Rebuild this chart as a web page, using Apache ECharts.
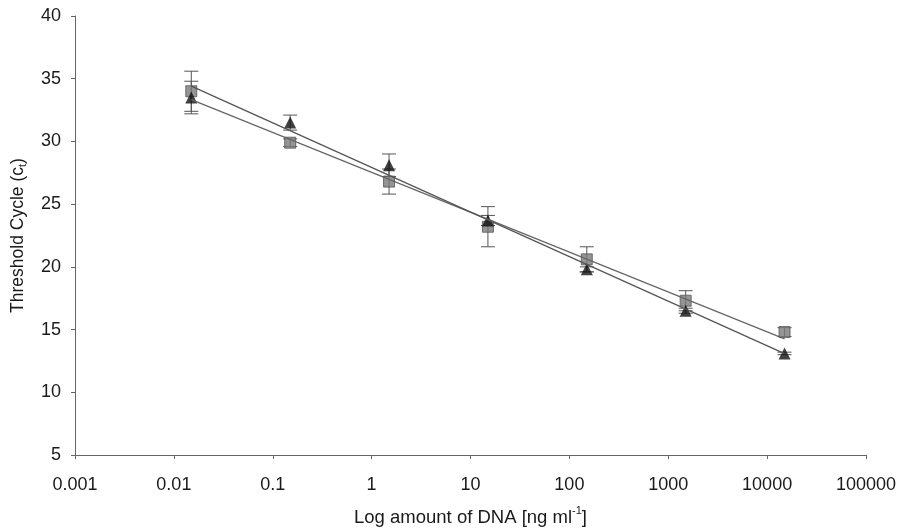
<!DOCTYPE html>
<html>
<head>
<meta charset="utf-8">
<script src="https://cdn.jsdelivr.net/npm/echarts@6/dist/echarts.min.js"></script>
<style>
html,body{margin:0;padding:0;background:#fff;}
#chart{width:901px;height:532px;}
</style>
</head>
<body>
<div id="chart"></div>
<script>
// ---- data ----
const xValues = [0.015, 0.15, 1.5, 15, 150, 1500, 15000];
const squareCt = [34.0, 29.9, 26.8, 23.2, 20.6, 17.3, 14.8];
const squareErr = [1.6, 0.3, 1.0, 1.6, 1.0, 0.8, 0.35];
const triangleCt = [33.5, 31.5, 28.1, 23.7, 19.8, 16.5, 13.1];
const triangleErr = [1.3, 0.6, 0.9, 0.4, 0.2, 0.2, 0.1];
const xTickLabels = ['0.001', '0.01', '0.1', '1', '10', '100', '1000', '10000', '100000'];
const yTicks = [5, 10, 15, 20, 25, 30, 35, 40];

function regression(xs, ys) {
  const lx = xs.map(v => Math.log10(v));
  const n = lx.length;
  const mx = lx.reduce((a, b) => a + b, 0) / n;
  const my = ys.reduce((a, b) => a + b, 0) / n;
  let sxy = 0, sxx = 0;
  for (let i = 0; i < n; i++) { sxy += (lx[i] - mx) * (ys[i] - my); sxx += (lx[i] - mx) ** 2; }
  const b = sxy / sxx, a = my - b * mx;
  return [xs[0], xs[n - 1]].map(x => [x, a + b * Math.log10(x)]);
}

function errData(xs, ys, es) {
  return xs.map((x, i) => [x, ys[i] - es[i], ys[i] + es[i]]);
}

function errRender(params, api) {
  const x = api.value(0);
  const lo = api.coord([x, api.value(1)]);
  const hi = api.coord([x, api.value(2)]);
  const hw = 7;
  const st = { stroke: '#555', lineWidth: 1 };
  return {
    type: 'group',
    children: [
      { type: 'line', shape: { x1: lo[0], y1: lo[1], x2: hi[0], y2: hi[1] }, style: st },
      { type: 'line', shape: { x1: lo[0] - hw, y1: lo[1], x2: lo[0] + hw, y2: lo[1] }, style: st },
      { type: 'line', shape: { x1: hi[0] - hw, y1: hi[1], x2: hi[0] + hw, y2: hi[1] }, style: st }
    ]
  };
}

const font = '"Liberation Sans", Arial, sans-serif';
const chart = echarts.init(document.getElementById('chart'), null, { renderer: 'canvas' });
chart.setOption({
  backgroundColor: '#fff',
  animation: false,
  grid: { left: 75, right: 35, top: 16, bottom: 77, containLabel: false, outerBoundsMode: 'none' },
  xAxis: {
    type: 'log', logBase: 10, min: 0.001, max: 100000,
    splitLine: { show: false },
    axisLine: { lineStyle: { color: '#666', width: 1 } },
    axisTick: { show: true, length: 4, lineStyle: { color: '#666' } },
    minorTick: { show: false },
    axisLabel: {
      color: '#1a1a1a', fontSize: 18, fontFamily: font, margin: 21,
      formatter: function (v) {
        const k = Math.round(Math.log10(v)) + 3;
        return xTickLabels[k] !== undefined ? xTickLabels[k] : '';
      }
    },
    name: '{a|Log amount of DNA [ng ml}{s|-1}{a|]}',
    nameLocation: 'middle', nameGap: 50,
    nameTextStyle: {
      rich: {
        a: { fontSize: 18.5, fontFamily: font, color: '#1a1a1a', lineHeight: 22, verticalAlign: 'bottom' },
        s: { fontSize: 11, fontFamily: font, color: '#1a1a1a', lineHeight: 22, verticalAlign: 'top', padding: [0, 0, 7, 0] }
      }
    }
  },
  yAxis: {
    type: 'value', min: 5, max: 40, interval: 5,
    splitLine: { show: false },
    axisLine: { show: true, lineStyle: { color: '#666', width: 1 } },
    axisTick: { show: true, length: 4, lineStyle: { color: '#666' } },
    axisLabel: { color: '#1a1a1a', fontSize: 18, fontFamily: font, margin: 14,
      formatter: v => (yTicks.indexOf(v) >= 0 ? String(v) : '') },
    name: '{a|Threshold Cycle (c}{s|t}{a|)}',
    nameLocation: 'middle', nameGap: 46, nameRotate: 90,
    nameTextStyle: {
      rich: {
        a: { fontSize: 17.5, fontFamily: font, color: '#1a1a1a', lineHeight: 22 },
        s: { fontSize: 11, fontFamily: font, color: '#1a1a1a', lineHeight: 22, padding: [9, 0, 0, 0] }
      }
    }
  },
  series: [
    { type: 'custom', name: 'errSquare', renderItem: errRender, data: errData(xValues, squareCt, squareErr),
      encode: { x: 0, y: [1, 2] }, z: 2, silent: true },
    { type: 'custom', name: 'errTriangle', renderItem: errRender, data: errData(xValues, triangleCt, triangleErr),
      encode: { x: 0, y: [1, 2] }, z: 2, silent: true },
    { type: 'scatter', name: 'square', symbol: 'rect', symbolSize: 11,
      itemStyle: { color: '#7a7a7a', borderColor: '#555', borderWidth: 1 },
      data: xValues.map((x, i) => [x, squareCt[i]]), z: 3 },
    { type: 'scatter', name: 'triangle', symbol: 'triangle', symbolSize: 12,
      itemStyle: { color: '#111' },
      data: xValues.map((x, i) => [x, triangleCt[i]]), z: 4 },
    { type: 'line', name: 'fitSquare', data: regression(xValues, squareCt), symbol: 'none',
      lineStyle: { color: '#666', width: 1.3 }, z: 5, silent: true },
    { type: 'line', name: 'fitTriangle', data: regression(xValues, triangleCt), symbol: 'none',
      lineStyle: { color: '#555', width: 1.3 }, z: 5, silent: true }
  ]
});
</script>
</body>
</html>
